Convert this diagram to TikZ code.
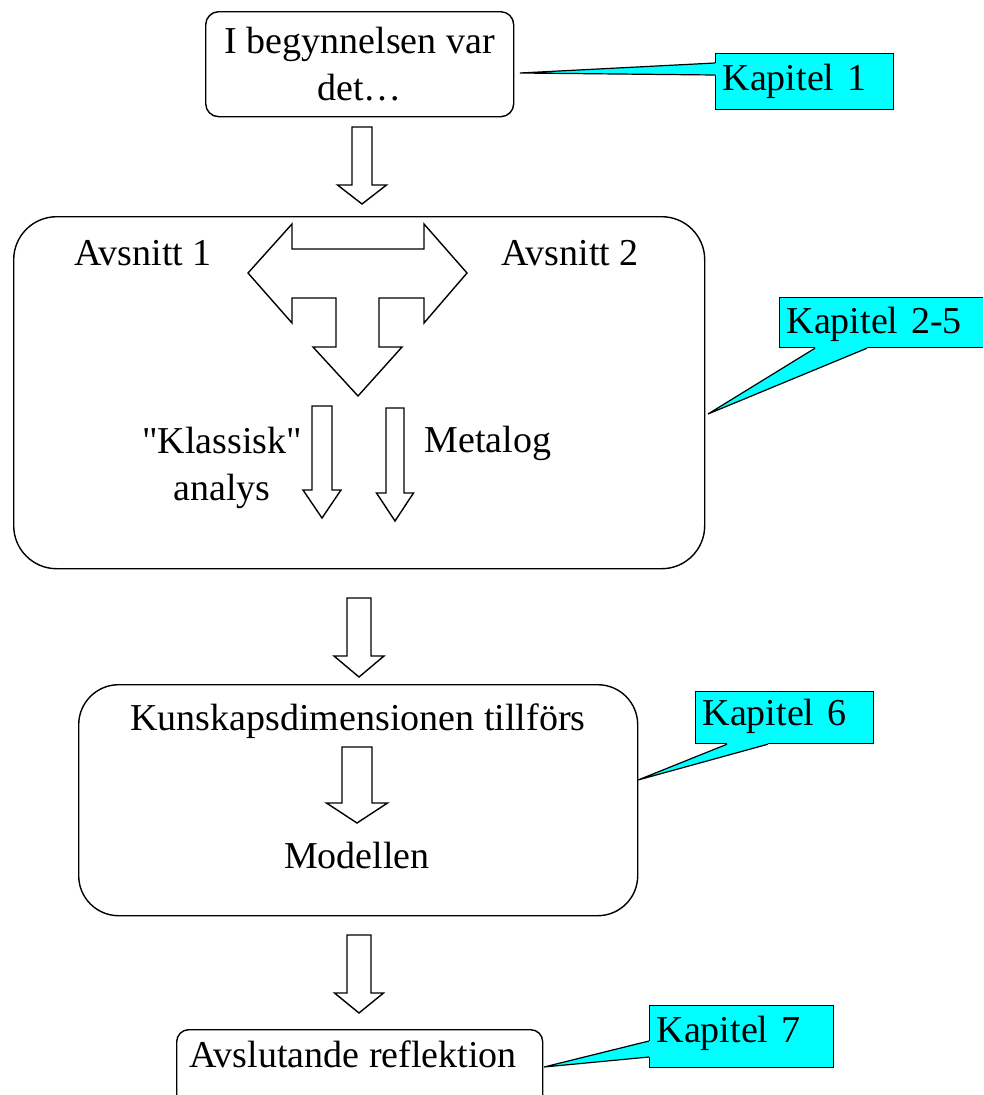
\documentclass[tikz,border=0pt]{standalone}
\usepackage{fontspec}
\setmainfont{Liberation Serif}[Ligatures=TeXOff]
\usetikzlibrary{calc}
\definecolor{kcyan}{RGB}{0,255,255}
\newcommand\blockdown[6]{% cx, top, headtop, tip, shafthalf, headhalf
  \draw[fill=white] (#1-#5,#2) -- (#1+#5,#2) -- (#1+#5,#3) -- (#1+#6,#3) -- (#1,#4) -- (#1-#6,#3) -- (#1-#5,#3) -- cycle;}
\begin{document}
\begin{tikzpicture}[x=1pt,y=-1pt, line width=1.4pt,
  every node/.style={font=\fontsize{38}{47}\selectfont, inner sep=0pt},
  rbox/.style={draw, rectangle, rounded corners=#1, anchor=north west},
  txt/.style={anchor=base},
  callbox/.style={draw, line width=1.2pt, fill=kcyan, anchor=north west, inner xsep=7pt, inner ysep=0pt, text height=#1, align=left},
  tail/.style={line width=1.2pt}]
\useasboundingbox (0,0) rectangle (983,1095);
\clip (0,0) rectangle (983,1095);

% boxes
\node[rbox=13pt, minimum width=308pt, minimum height=105pt, align=center] (b1) at (205,11) {I begynnelsen var\\det…};
\node[rbox=43pt, minimum width=691pt, minimum height=352pt] (b2) at (13,216) {};
\node[rbox=40pt, minimum width=559pt, minimum height=231pt] (b3) at (78,684) {};
\node[rbox=12pt, minimum width=366pt, minimum height=100pt] (b4) at (176,1029) {};

% texts
\node[txt] (av1) at (143,265) {Avsnitt 1};
\node[txt] (av2) at (570,265) {Avsnitt 2};
\node[align=center, anchor=north] (kl) at (222,426) {"Klassisk"\\analys};
\node[txt] (meta) at (488,452) {Metalog};
\node[txt] (kun) at (358,730) {Kunskapsdimensionen tillförs};
\node[txt] (mod) at (357,868) {Modellen};
\node[txt] (avs) at (353,1067) {Avslutande reflektion};

% block arrows
\blockdown{362}{127}{185}{204}{10}{24.5}
\blockdown{359}{598}{656}{677}{12}{25}
\blockdown{357}{747}{803}{823}{15}{30.5}
\blockdown{359}{935}{993}{1013}{12}{24.5}
\blockdown{322}{406}{490}{518}{10}{19}
\blockdown{395}{408}{493}{521}{9}{18.5}

% T-shaped arrow
\draw[fill=white] (248,273) -- (292,224) -- (292,249) -- (424,249) -- (424,224) -- (467,273)
  -- (424,323) -- (424,298) -- (379,298) -- (379,347) -- (402,347) -- (358,396)
  -- (313,347) -- (336,347) -- (336,298) -- (292,298) -- (292,323) -- cycle;

% callouts
\node[callbox=37pt, text depth=19pt, text width=164pt] (k1) at (715,53) {Kapitel 1};
\node[callbox=36pt, text depth=14pt, text width=197pt] (k25) at (779,297) {Kapitel 2-5};
\node[callbox=34pt, text depth=18pt, text width=164pt] (k6) at (695,691) {Kapitel 6};
\node[callbox=37pt, text depth=25pt, text width=170pt] (k7) at (649,1005) {Kapitel 7};

\coordinate (t1) at (520,73);
\coordinate (t25) at (708,414);
\coordinate (t6) at (638,780);
\coordinate (t7) at (544,1067);

\fill[kcyan] ($(k1.north west)+(0,10)$) -- (t1) -- ($(k1.north west)+(0,22)$) -- ++(3,0) -- ($(k1.north west)+(3,10)$) -- cycle;
\draw[tail] ($(k1.north west)+(0,10)$) -- (t1) -- ($(k1.north west)+(0,22)$);

\fill[kcyan] ($(k25.south west)+(36,0)$) -- (t25) -- ($(k25.south west)+(88,0)$) -- ++(0,-3) -- ($(k25.south west)+(36,-3)$) -- cycle;
\draw[tail] ($(k25.south west)+(36,0)$) -- (t25) -- ($(k25.south west)+(88,0)$);

\fill[kcyan] ($(k6.south west)+(32,0)$) -- (t6) -- ($(k6.south west)+(73,0)$) -- ++(0,-3) -- ($(k6.south west)+(32,-3)$) -- cycle;
\draw[tail] ($(k6.south west)+(32,0)$) -- (t6) -- ($(k6.south west)+(73,0)$);

\fill[kcyan] ($(k7.north west)+(0,36)$) -- (t7) -- ($(k7.north west)+(0,52)$) -- ++(3,0) -- ($(k7.north west)+(3,36)$) -- cycle;
\draw[tail] ($(k7.north west)+(0,36)$) -- (t7) -- ($(k7.north west)+(0,52)$);
\end{tikzpicture}
\end{document}
